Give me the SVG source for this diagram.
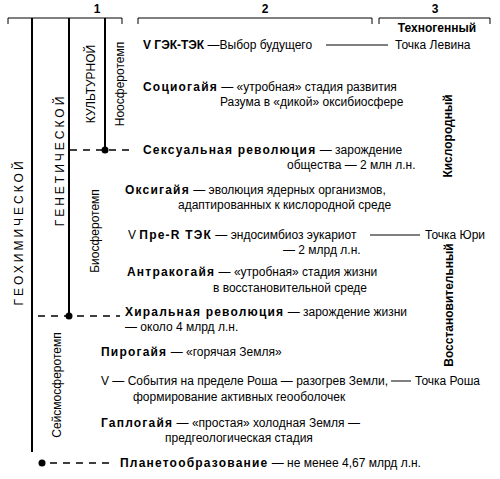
<svg xmlns="http://www.w3.org/2000/svg" width="500" height="479" viewBox="0 0 500 479">
<style>
text{font-family:"Liberation Sans",Arial,sans-serif;font-size:12px;fill:#000}
.b{font-weight:bold}
.bb{font-weight:bold;letter-spacing:1.2px}
.sp{letter-spacing:3px;font-size:12px}
.ln{stroke:#000;stroke-width:2;fill:none}
.th{stroke:#000;stroke-width:1;fill:none}
.ds{stroke:#000;stroke-width:1.6;stroke-dasharray:7 6;fill:none}
</style>
<rect width="500" height="479" fill="#fff"/>
<g id="brackets">
<path class="th" d="M8 24V18H122V24"/>
<path class="th" d="M138 24V18H372V24"/>
<path class="th" d="M379 24V18H490V24"/>
<text x="97" y="13" text-anchor="middle" class="b">1</text>
<text x="265" y="13" text-anchor="middle" class="b">2</text>
<text x="435" y="13" text-anchor="middle" class="b">3</text>
</g>
<g id="connectors">
<line class="ln" x1="32" y1="18" x2="32" y2="452"/>
<line class="ln" x1="69" y1="18" x2="69" y2="316"/>
<line class="ln" x1="105" y1="18" x2="105" y2="150"/>
<line class="ds" x1="70" y1="150" x2="132" y2="150"/>
<circle cx="105" cy="150" r="3.5"/>
<line class="ds" x1="38" y1="316" x2="120" y2="316"/>
<circle cx="69" cy="316" r="3.5"/>
<line class="ds" x1="50" y1="463" x2="110" y2="463"/>
<circle cx="42" cy="463" r="3.5"/>
<line class="th" x1="326" y1="45" x2="388" y2="45"/>
<line class="th" x1="370" y1="235" x2="420" y2="235"/>
<line class="th" x1="391" y1="381" x2="411" y2="381"/>
</g>
<g id="vlabels">
<text class="sp" transform="translate(23 232) rotate(-90)" text-anchor="middle">ГЕОХИМИЧЕСКОЙ</text>
<text class="sp" transform="translate(64 160) rotate(-90)" text-anchor="middle">ГЕНЕТИЧЕСКОЙ</text>
<text transform="translate(95 84) rotate(-90)" text-anchor="middle">КУЛЬТУРНОЙ</text>
<text transform="translate(124 84) rotate(-90)" text-anchor="middle">Ноосферотемп</text>
<text transform="translate(99 231) rotate(-90)" text-anchor="middle">Биосферотемп</text>
<text transform="translate(61 385) rotate(-90)" text-anchor="middle">Сейсмосферотемп</text>
<text class="b" transform="translate(452 136) rotate(-90)" text-anchor="middle">Кислородный</text>
<text class="b" transform="translate(453 305) rotate(-90)" text-anchor="middle">Восстановительный</text>
<text class="b" x="437" y="32" text-anchor="middle">Техногенный</text>
</g>
<g id="points">
<text x="395" y="49">Точка Левина</text>
<text x="425" y="239">Точка Юри</text>
<text x="415" y="385">Точка Роша</text>
</g>
<g id="n1"><text x="143" y="49"><tspan class="b">V ГЭК-ТЭК</tspan> —Выбор будущего</text></g>
<g id="n2"><text x="143" y="91"><tspan class="bb">Социогайя</tspan> — «утробная» стадия развития</text>
<text x="220" y="106">Разума в «дикой» оксибиосфере</text></g>
<g id="n3"><text x="143" y="154"><tspan class="bb">Сексуальная революция</tspan> — зарождение</text>
<text x="287" y="169">общества — 2 млн л.н.</text></g>
<g id="n4"><text x="125" y="194"><tspan class="bb">Оксигайя</tspan> — эволюция ядерных организмов,</text>
<text x="178" y="209">адаптированных к кислородной среде</text></g>
<g id="n5"><text x="128" y="239">V  <tspan class="bb">Пре-R ТЭК</tspan> — эндосимбиоз эукариот</text>
<text x="283" y="254">—  2 млрд л.н.</text></g>
<g id="n6"><text x="127" y="276"><tspan class="bb">Антракогайя</tspan> — «утробная» стадия жизни</text>
<text x="213" y="292">в восстановительной среде</text></g>
<g id="n7"><text x="125" y="316"><tspan class="bb">Хиральная революция</tspan> — зарождение жизни</text>
<text x="125" y="331">— около 4 млрд л.н.</text></g>
<g id="n8"><text x="101" y="356"><tspan class="bb">Пирогайя</tspan> — «горячая Земля»</text></g>
<g id="n9"><text x="101" y="385">V — События на пределе Роша — разогрев Земли,</text>
<text x="133" y="401">формирование активных геооболочек</text></g>
<g id="n10"><text x="101" y="427"><tspan class="bb">Гаплогайя</tspan> — «простая» холодная Земля —</text>
<text x="165" y="442">предгеологическая стадия</text></g>
<g id="n11"><text x="120" y="467"><tspan class="bb">Планетообразование</tspan> — не менее 4,67 млрд л.н.</text></g>
</svg>
